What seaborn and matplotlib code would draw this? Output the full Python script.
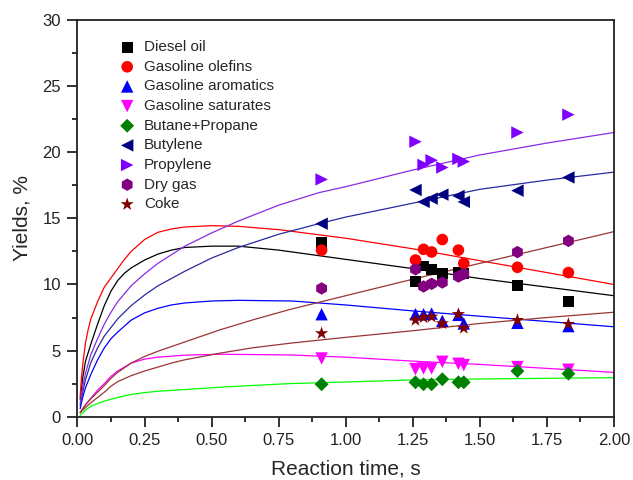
import numpy as np
import pandas as pd
import seaborn as sns
import matplotlib
matplotlib.use("Agg")
import matplotlib.pyplot as plt
from matplotlib.ticker import MultipleLocator

# ---------------- data ----------------
time_exp = [0.91, 1.26, 1.29, 1.32, 1.36, 1.42, 1.44, 1.64, 1.83]

diesel_oil = [13.2, 10.2, 11.4, 11.15, 10.85, 10.9, 10.85, 9.9, 8.7]
gasoline_olefins = [12.6, 11.85, 12.66, 12.46, 13.4, 12.6, 11.6, 11.3, 10.9]
gasoline_aromatics = [7.75, 7.75, 7.75, 7.8, 7.25, 7.7, 7.05, 7.1, 6.85]
gasoline_saturates = [4.4, 3.6, 3.65, 3.65, 4.15, 4.0, 3.9, 3.75, 3.55]
butane_propane = [2.45, 2.6, 2.45, 2.45, 2.83, 2.6, 2.6, 3.45, 3.25]
butylene = [14.6, 17.15, 16.25, 16.5, 16.8, 16.7, 16.25, 17.1, 18.1]
propylene = [17.95, 20.8, 19.05, 19.4, 18.85, 19.5, 19.3, 21.5, 22.85]
dry_gas = [9.7, 11.15, 9.85, 10.05, 10.15, 10.6, 10.8, 12.45, 13.3]
coke = [6.3, 7.3, 7.5, 7.55, 7.05, 7.75, 6.7, 7.3, 7.0]

# model curves
olefins_t = [0.01, 0.015, 0.02, 0.03, 0.04, 0.05, 0.075, 0.1, 0.125, 0.15, 0.175, 0.2, 0.25, 0.3,
             0.35, 0.4, 0.5, 0.6, 0.75, 1.0, 1.25, 1.5, 1.75, 2.0]
olefins_y = [1.5, 3.0, 4.0, 5.6, 6.6, 7.4, 8.7, 9.8, 10.5, 11.2, 11.9, 12.5, 13.4, 13.95,
             14.2, 14.35, 14.45, 14.4, 14.15, 13.5, 12.7, 11.8, 10.9, 10.0]

diesel_t = [0.01, 0.02, 0.03, 0.05, 0.075, 0.1, 0.125, 0.15, 0.175, 0.2, 0.25, 0.3, 0.35, 0.4,
            0.5, 0.6, 0.75, 1.0, 1.25, 1.5, 1.75, 2.0]
diesel_y = [1.3, 3.0, 4.2, 5.5, 7.0, 8.4, 9.5, 10.3, 10.85, 11.25, 11.85, 12.3, 12.6, 12.8,
            12.9, 12.9, 12.6, 11.9, 11.2, 10.45, 9.8, 9.15]

propylene_t = [0.01, 0.02, 0.03, 0.05, 0.075, 0.1, 0.125, 0.15, 0.2, 0.25, 0.3, 0.4, 0.5, 0.6,
               0.75, 0.9, 1.0, 1.25, 1.5, 1.75, 2.0]
propylene_y = [1.0, 2.3, 3.3, 4.7, 5.9, 7.0, 7.9, 8.7, 9.9, 10.8, 11.6, 12.9, 13.9, 14.8,
               16.0, 16.95, 17.4, 18.66, 19.8, 20.7, 21.5]

butylene_t = [0.01, 0.02, 0.03, 0.05, 0.075, 0.1, 0.15, 0.2, 0.25, 0.3, 0.35, 0.4, 0.5, 0.6,
              0.75, 0.9, 1.0, 1.25, 1.5, 1.75, 2.0]
butylene_y = [0.8, 1.9, 2.8, 4.1, 5.2, 6.1, 7.4, 8.4, 9.2, 9.9, 10.45, 11.0, 12.0, 12.8,
              13.8, 14.6, 15.1, 16.15, 17.2, 17.9, 18.5]

aromatics_t = [0.01, 0.02, 0.03, 0.05, 0.075, 0.1, 0.125, 0.15, 0.2, 0.25, 0.3, 0.35, 0.4, 0.5,
               0.6, 0.8, 1.0, 1.25, 1.5, 1.75, 2.0]
aromatics_y = [0.6, 1.5, 2.2, 3.2, 4.3, 5.2, 5.9, 6.4, 7.3, 7.85, 8.2, 8.45, 8.6, 8.75,
               8.8, 8.75, 8.45, 8.0, 7.6, 7.2, 6.8]

saturates_t = [0.01, 0.02, 0.03, 0.05, 0.075, 0.1, 0.125, 0.15, 0.2, 0.25, 0.3, 0.4, 0.53, 0.79,
               1.0, 1.25, 1.5, 1.75, 2.0]
saturates_y = [0.3, 0.6, 0.9, 1.4, 2.0, 2.5, 3.05, 3.45, 4.05, 4.35, 4.5, 4.65, 4.72, 4.67,
               4.5, 4.2, 3.95, 3.65, 3.35]

drygas_t = [0.01, 0.02, 0.03, 0.05, 0.075, 0.1, 0.125, 0.15, 0.2, 0.25, 0.3, 0.35, 0.4, 0.53,
            0.65, 0.79, 1.0, 1.25, 1.5, 1.75, 2.0]
drygas_y = [0.3, 0.6, 0.9, 1.35, 1.85, 2.35, 2.9, 3.35, 4.05, 4.55, 4.95, 5.3, 5.65, 6.56,
            7.3, 8.1, 9.15, 10.4, 11.6, 12.8, 14.0]

coke_t = [0.01, 0.02, 0.03, 0.05, 0.075, 0.1, 0.125, 0.15, 0.2, 0.25, 0.3, 0.35, 0.4, 0.53,
          0.65, 0.79, 1.0, 1.25, 1.5, 1.75, 2.0]
coke_y = [0.3, 0.5, 0.7, 1.05, 1.45, 1.85, 2.3, 2.65, 3.1, 3.45, 3.75, 4.05, 4.3, 4.8,
          5.2, 5.55, 6.0, 6.5, 7.05, 7.5, 7.9]

butprop_t = [0.01, 0.02, 0.03, 0.05, 0.075, 0.1, 0.15, 0.2, 0.25, 0.3, 0.4, 0.55, 0.79, 1.0,
             1.25, 1.5, 1.75, 2.0]
butprop_y = [0.1, 0.3, 0.5, 0.78, 1.0, 1.17, 1.45, 1.68, 1.82, 1.92, 2.05, 2.25, 2.5, 2.62,
             2.78, 2.85, 2.9, 2.95]

x_ticks = [0.00, 0.25, 0.50, 0.75, 1.00, 1.25, 1.50, 1.75, 2.00]
x_tick_labels = ["0.00", "0.25", "0.50", "0.75", "1.00", "1.25", "1.50", "1.75", "2.00"]
y_ticks = [0, 5, 10, 15, 20, 25, 30]

# ---------------- style ----------------
sns.set_theme(style="ticks")
plt.rcParams["font.family"] = ["Liberation Sans", "DejaVu Sans"]

fig = plt.figure(figsize=(6.33, 4.8), dpi=100)
ax = fig.add_axes([0.1224, 0.132, 0.8476, 0.826])

curves = [
    (diesel_t, diesel_y, "black"),
    (olefins_t, olefins_y, "#ff0000"),
    (aromatics_t, aromatics_y, "#0000ff"),
    (saturates_t, saturates_y, "#ff00ff"),
    (butprop_t, butprop_y, "#00ff00"),
    (butylene_t, butylene_y, "#2a2aa0"),
    (propylene_t, propylene_y, "#8a2be2"),
    (drygas_t, drygas_y, "#9b3535"),
    (coke_t, coke_y, "#9b3535"),
]
for t, y, c in curves:
    sns.lineplot(x=t, y=y, color=c, lw=0.9, ax=ax, legend=False,
                 estimator=None, sort=False, zorder=2)

series = [
    ("Diesel oil", diesel_oil, "black", "s", 60),
    ("Gasoline olefins", gasoline_olefins, "#ff0000", "o", 70),
    ("Gasoline aromatics", gasoline_aromatics, "#0000ff", "^", 80),
    ("Gasoline saturates", gasoline_saturates, "#ff00ff", "v", 80),
    ("Butane+Propane", butane_propane, "#008000", "D", 50),
    ("Butylene", butylene, "#000080", "<", 80),
    ("Propylene", propylene, "#8000ff", ">", 80),
    ("Dry gas", dry_gas, "#800080", "h", 80),
    ("Coke", coke, "#800000", "*", 100),
]
for name, vals, c, m, s in series:
    sns.scatterplot(x=time_exp, y=vals, color=c, marker=m, s=s,
                    edgecolor="none", linewidth=0, label=name, ax=ax, zorder=3)

ax.set_xlim(0, 2.0)
ax.set_ylim(0, 30)
ax.set_xticks(x_ticks)
ax.set_xticklabels(x_tick_labels)
ax.set_yticks(y_ticks)
ax.xaxis.set_minor_locator(MultipleLocator(0.125))
ax.yaxis.set_minor_locator(MultipleLocator(2.5))
ax.tick_params(axis="both", which="major", direction="out", length=7,
               width=1.3, labelsize=12, colors="#222222", pad=5)
ax.tick_params(axis="both", which="minor", direction="out", length=3.5,
               width=1.3, colors="#222222")
ax.tick_params(top=False, right=False, which="both")
for sp in ax.spines.values():
    sp.set_linewidth(1.3)
    sp.set_color("#222222")

ax.set_xlabel("Reaction time, s", fontsize=15, labelpad=8)
ax.set_ylabel("Yields, %", fontsize=15, labelpad=8)

leg = ax.legend(loc="upper left", bbox_to_anchor=(0.067, 0.965), frameon=False,
                fontsize=11, handletextpad=0.6, labelspacing=0.37,
                borderaxespad=0.0, handlelength=1.0)

fig.savefig("out.png", dpi=100)
